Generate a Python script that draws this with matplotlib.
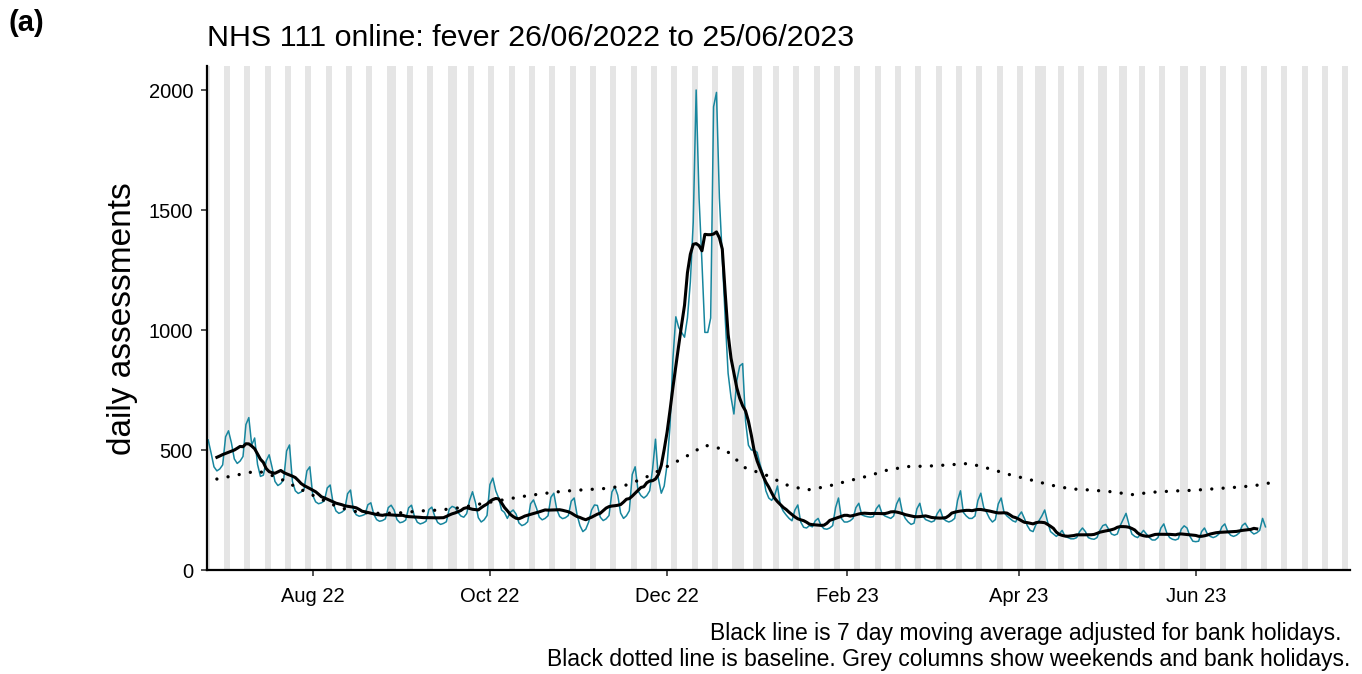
import numpy as np
import pandas as pd
import matplotlib
matplotlib.use('Agg')
import matplotlib.pyplot as plt
import matplotlib.dates as mdates

plt.rcParams['font.family'] = ['Liberation Sans', 'DejaVu Sans']

# ---------------- data (daily NHS 111 online fever assessments) ----------------
first_date = '2022-06-26'          # Sunday
first_day = [542]
# Weeks Mon..Sun starting Mon 27/06/2022
weeks_summer = [
    [488, 430, 413, 421, 438, 555, 580],
    [530, 463, 444, 454, 473, 606, 635],
    [520, 550, 440, 390, 395, 455, 480],
    [428, 369, 352, 360, 377, 496, 521],
    [369, 330, 319, 325, 336, 413, 430],
    [311, 284, 276, 280, 288, 342, 354],
    [280, 246, 236, 241, 251, 318, 333],
    [249, 230, 224, 227, 232, 272, 280],
    [233, 210, 203, 206, 213, 260, 270],
    [250, 210, 197, 200, 208, 259, 270],
    [224, 199, 192, 196, 203, 252, 262],
    [224, 198, 190, 194, 201, 254, 265],
    [260, 240, 225, 220, 235, 290, 326],
]
weeks_autumn = [
    [282, 218, 200, 209, 227, 356, 383],
    [330, 300, 250, 240, 215, 240, 250],
    [233, 196, 185, 190, 201, 276, 292],
    [259, 220, 209, 215, 226, 303, 320],
    [253, 223, 214, 218, 227, 287, 300],
    [230, 185, 160, 170, 200, 250, 271],
    [269, 220, 206, 213, 227, 325, 346],
    [312, 237, 215, 226, 247, 398, 430],
    [330, 310, 300, 310, 330, 420, 545],
    [380, 320, 350, 440, 600, 880, 1055],
    [1010, 990, 970, 1050, 1200, 1450, 2000],
    [1550, 1280, 990, 990, 1050, 1930, 1990],
    [1550, 1300, 1050, 820, 720, 650, 790],
]
weeks_winter = [
    [850, 860, 620, 520, 500, 500, 490],
    [440, 400, 330, 300, 290, 310, 350],
    [270, 245, 229, 215, 205, 250, 271],
    [200, 178, 175, 185, 180, 205, 215],
    [185, 172, 170, 175, 185, 260, 300],
    [215, 200, 200, 205, 215, 260, 278],
    [230, 225, 222, 220, 222, 255, 271],
    [235, 225, 220, 215, 225, 275, 300],
    [240, 215, 200, 190, 195, 255, 278],
    [225, 210, 205, 200, 205, 235, 253],
    [215, 205, 200, 205, 215, 290, 330],
    [240, 225, 215, 215, 225, 290, 320],
    [260, 240, 215, 200, 210, 275, 300],
]
weeks_spring = [
    [240, 225, 215, 205, 200, 225, 242],
    [215, 185, 165, 160, 190, 205, 225],
    [250, 200, 160, 150, 140, 150, 165],
    [140, 135, 130, 130, 135, 160, 175],
    [160, 135, 130, 128, 135, 165, 185],
    [190, 170, 150, 145, 150, 185, 210],
    [236, 190, 150, 140, 135, 150, 165],
    [150, 135, 125, 125, 135, 175, 192],
    [155, 135, 128, 125, 130, 170, 184],
    [175, 140, 120, 118, 120, 160, 175],
    [150, 140, 135, 140, 150, 180, 192],
    [160, 145, 140, 145, 155, 185, 195],
    [175, 160, 150, 155, 165, 215, 180],
]

# baseline, weekly points from 29/06/2022
baseline_start = '2022-06-29'
baseline = [379, 396, 413, 386, 341, 300, 261, 240, 236, 238, 246, 250, 260,
            276, 291, 306, 318, 328, 334, 339, 350, 382, 425, 469, 520, 502,
            425, 396, 355, 333, 348, 370, 391, 417, 431, 433, 438, 444, 422,
            397, 376, 354, 338, 333, 326, 314, 324, 329, 332, 338, 344, 351, 366]

bank_holidays = ['2022-08-29', '2022-09-19', '2022-12-26', '2022-12-27',
                 '2023-01-02', '2023-04-07', '2023-04-10', '2023-05-01',
                 '2023-05-08', '2023-05-29']

x_ticks = ['2022-08-01', '2022-10-01', '2022-12-01', '2023-02-01',
           '2023-04-01', '2023-06-01']
x_tick_labels = ['Aug 22', 'Oct 22', 'Dec 22', 'Feb 23', 'Apr 23', 'Jun 23']
y_ticks = [0, 500, 1000, 1500, 2000]

# ---------------- build series ----------------
values = list(first_day)
for block in (weeks_summer, weeks_autumn, weeks_winter, weeks_spring):
    for wk in block:
        values.extend(wk)
dates = pd.date_range(first_date, periods=len(values), freq='D')
series = pd.Series(values, index=dates, dtype=float)
ma7 = series.rolling(7, center=True).mean()

base_dates = pd.date_range(baseline_start, periods=len(baseline), freq='7D')

# ---------------- figure ----------------
W, H = 1362, 674
fig = plt.figure(figsize=(W / 100, H / 100), dpi=100)
ax = fig.add_axes([207 / W, 1 - 570 / H, (1350 - 207) / W, (570 - 66) / H])

x_left = mdates.date2num(pd.Timestamp(first_date)) - 0.4
x_right = mdates.date2num(pd.Timestamp('2023-07-24')) + 0.1

# grey columns: weekends + bank holidays
all_days = pd.date_range('2022-06-25', '2023-07-23', freq='D')
bh = set(pd.to_datetime(bank_holidays))
for d in all_days:
    if d.dayofweek >= 5 or d in bh:
        c = mdates.date2num(d)
        ax.axvspan(c - 0.5, c + 0.5, color='#E5E5E5', lw=0, zorder=0)

ax.plot(dates, series.values, color='#17869E', lw=1.1, zorder=2)
ax.plot(base_dates, baseline, color='black', lw=2.4, linestyle=(0, (0.01, 3.4)),
        dash_capstyle='round', zorder=3)
ax.plot(dates, ma7.values, color='black', lw=2.2, zorder=4)

ax.set_xlim(x_left, x_right)
ax.set_ylim(0, 2100)
ax.set_xticks(mdates.date2num(pd.to_datetime(x_ticks)))
ax.set_xticklabels(x_tick_labels)
ax.set_yticks(y_ticks)
ax.set_yticklabels([str(v) for v in y_ticks])

for s in ['top', 'right']:
    ax.spines[s].set_visible(False)
for s in ['left', 'bottom']:
    ax.spines[s].set_linewidth(1.6)
    ax.spines[s].set_color('black')
ax.tick_params(axis='both', length=4, width=1.2, color='#333333',
               labelsize=14.5, labelcolor='black')
ax.tick_params(axis='x', pad=8)
ax.tick_params(axis='y', pad=6)

fig.text(122 / W, 1 - 319 / H, 'daily assessments', rotation=90,
         ha='center', va='center', fontsize=24)
fig.text(207 / W, 1 - 46 / H, 'NHS 111 online: fever 26/06/2022 to 25/06/2023',
         ha='left', va='baseline', fontsize=21.9)
fig.text(8 / W, 1 - 31 / H, '(a)', ha='left', va='baseline', fontsize=21,
         fontweight='bold')
fig.text(1342 / W, 1 - 640 / H,
         'Black line is 7 day moving average adjusted for bank holidays.',
         ha='right', va='baseline', fontsize=16.5)
fig.text(1350 / W, 1 - 666 / H,
         'Black dotted line is baseline. Grey columns show weekends and bank holidays.',
         ha='right', va='baseline', fontsize=16.5)

fig.savefig('out.png', dpi=100)
